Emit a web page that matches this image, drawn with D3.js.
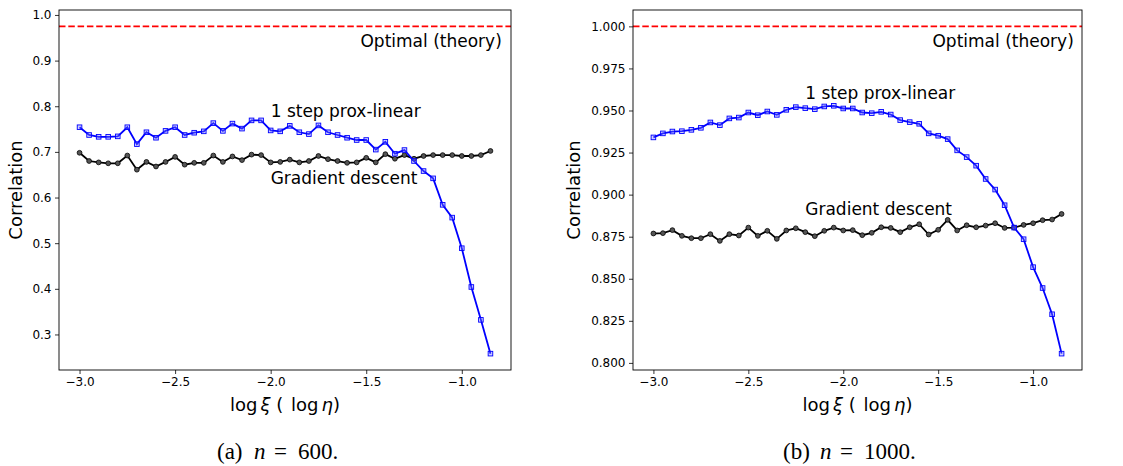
<!DOCTYPE html>
<html>
<head>
<meta charset="utf-8">
<script src="https://cdn.jsdelivr.net/npm/d3@7"></script>
<style>
  body { margin: 0; background: #fff; }
  svg { display: block; font-family: "DejaVu Sans", sans-serif; }
  .tick text { font-size: 12px; fill: #000; }
  .tick line { stroke: #000; stroke-width: 0.8; }
</style>
</head>
<body>
<div id="chart"></div>
<script>
// log step size grid shared by both panels
var xLog = [-3.00, -2.95, -2.90, -2.85, -2.80, -2.75, -2.70, -2.65, -2.60, -2.55,
            -2.50, -2.45, -2.40, -2.35, -2.30, -2.25, -2.20, -2.15, -2.10, -2.05,
            -2.00, -1.95, -1.90, -1.85, -1.80, -1.75, -1.70, -1.65, -1.60, -1.55,
            -1.50, -1.45, -1.40, -1.35, -1.30, -1.25, -1.20, -1.15, -1.10, -1.05,
            -1.00, -0.95, -0.90, -0.85];

// panel (a) n = 600
var proxA = [0.754, 0.737, 0.733, 0.733, 0.734, 0.754, 0.717, 0.743, 0.731, 0.746,
             0.754, 0.737, 0.742, 0.745, 0.763, 0.746, 0.762, 0.751, 0.769, 0.769,
             0.747, 0.745, 0.757, 0.743, 0.739, 0.758, 0.743, 0.737, 0.731, 0.726,
             0.726, 0.705, 0.722, 0.696, 0.704, 0.680, 0.658, 0.642, 0.584, 0.556,
             0.489, 0.404, 0.332, 0.258];
var gdA = [0.698, 0.680, 0.677, 0.675, 0.675, 0.692, 0.661, 0.678, 0.668, 0.678,
           0.689, 0.672, 0.676, 0.676, 0.692, 0.678, 0.690, 0.682, 0.694, 0.693,
           0.677, 0.678, 0.683, 0.677, 0.680, 0.691, 0.684, 0.680, 0.676, 0.677,
           0.687, 0.677, 0.695, 0.685, 0.693, 0.685, 0.691, 0.693, 0.693, 0.693,
           0.691, 0.691, 0.693, 0.702];
var optimalA = 0.975;

// panel (b) n = 1000
var proxB = [0.9340, 0.9364, 0.9375, 0.9377, 0.9385, 0.9397, 0.9429, 0.9413, 0.9453, 0.9458,
             0.9488, 0.9472, 0.9494, 0.9474, 0.9504, 0.9520, 0.9514, 0.9508, 0.9524, 0.9528,
             0.9512, 0.9512, 0.9488, 0.9484, 0.9492, 0.9476, 0.9443, 0.9431, 0.9421, 0.9364,
             0.9350, 0.9330, 0.9263, 0.9223, 0.9172, 0.9093, 0.9030, 0.8937, 0.8804, 0.8735,
             0.8569, 0.8445, 0.8289, 0.8055];
var gdB = [0.8769, 0.8771, 0.8789, 0.8755, 0.8741, 0.8741, 0.8765, 0.8725, 0.8765, 0.8757,
           0.8804, 0.8755, 0.8785, 0.8737, 0.8787, 0.8800, 0.8777, 0.8753, 0.8785, 0.8804,
           0.8787, 0.8789, 0.8759, 0.8773, 0.8806, 0.8802, 0.8777, 0.8806, 0.8824, 0.8763,
           0.8791, 0.8850, 0.8787, 0.8818, 0.8806, 0.8816, 0.8830, 0.8802, 0.8804, 0.8820,
           0.8830, 0.8848, 0.8852, 0.8885];
var optimalB = 1.0;

var xTicks = [-3.0, -2.5, -2.0, -1.5, -1.0];
var yTicksA = [0.3, 0.4, 0.5, 0.6, 0.7, 0.8, 0.9, 1.0];
var yTicksB = [0.800, 0.825, 0.850, 0.875, 0.900, 0.925, 0.950, 0.975, 1.000];

var svg = d3.select('#chart').append('svg')
    .attr('width', 1123)
    .attr('height', 466);

svg.append('rect').attr('width', 1123).attr('height', 466).attr('fill', '#fff');

function minusFmt(f) {
    return function (d) { return d3.format(f)(d).replace('-', '\u2212'); };
}

function drawPanel(opt) {
    var left = opt.left, right = opt.right, top = 10, bottom = 370;

    // matplotlib style autoscale with 5% margins
    var xExt = d3.extent(xLog);
    var xPad = (xExt[1] - xExt[0]) * 0.05;
    var allY = opt.prox.concat(opt.gd, [opt.optimal]);
    var yExt = d3.extent(allY);
    var yPad = (yExt[1] - yExt[0]) * 0.05;

    var x = d3.scaleLinear().domain([xExt[0] - xPad, xExt[1] + xPad]).range([left, right]);
    var y = d3.scaleLinear().domain([yExt[0] - yPad, yExt[1] + yPad]).range([bottom, top]);

    var g = svg.append('g');

    // clip region for the plot area
    var clipId = 'clip-' + opt.id;
    g.append('clipPath').attr('id', clipId)
        .append('rect')
        .attr('x', left).attr('y', top)
        .attr('width', right - left).attr('height', bottom - top);

    var plot = g.append('g').attr('clip-path', 'url(#' + clipId + ')');

    // optimal (theory) dashed line
    plot.append('line')
        .attr('x1', left).attr('x2', right)
        .attr('y1', y(opt.optimal)).attr('y2', y(opt.optimal))
        .attr('stroke', '#ff0000')
        .attr('stroke-width', 1.8)
        .attr('stroke-dasharray', '6.5,2.8');

    var line = d3.line()
        .x(function (d, i) { return x(xLog[i]); })
        .y(function (d) { return y(d); });

    // gradient descent (black, circles)
    plot.append('path')
        .datum(opt.gd)
        .attr('d', line)
        .attr('fill', 'none')
        .attr('stroke', '#000')
        .attr('stroke-width', 1.8);

    plot.selectAll('circle.gd')
        .data(opt.gd)
        .enter().append('circle')
        .attr('class', 'gd')
        .attr('cx', function (d, i) { return x(xLog[i]); })
        .attr('cy', function (d) { return y(d); })
        .attr('r', 2.4)
        .attr('fill', '#555')
        .attr('stroke', '#000')
        .attr('stroke-width', 0.8);

    // 1 step prox-linear (blue, squares)
    plot.append('path')
        .datum(opt.prox)
        .attr('d', line)
        .attr('fill', 'none')
        .attr('stroke', '#0000ff')
        .attr('stroke-width', 1.8);

    var s = 4.6;
    plot.selectAll('rect.px')
        .data(opt.prox)
        .enter().append('rect')
        .attr('class', 'px')
        .attr('x', function (d, i) { return x(xLog[i]) - s / 2; })
        .attr('y', function (d) { return y(d) - s / 2; })
        .attr('width', s).attr('height', s)
        .attr('fill', 'rgba(120,120,255,0.35)')
        .attr('stroke', '#0000ff')
        .attr('stroke-width', 0.9);

    // axes
    g.append('g')
        .attr('transform', 'translate(0,' + bottom + ')')
        .call(d3.axisBottom(x).tickValues(xTicks).tickFormat(minusFmt('.1f'))
            .tickSize(4).tickPadding(3.5))
        .call(function (a) { a.select('.domain').remove(); });

    g.append('g')
        .attr('transform', 'translate(' + left + ',0)')
        .call(d3.axisLeft(y).tickValues(opt.yTicks).tickFormat(d3.format(opt.yFmt))
            .tickSize(4).tickPadding(3.5))
        .call(function (a) { a.select('.domain').remove(); });

    g.selectAll('.tick text').attr('font-family', '"DejaVu Sans", sans-serif');

    // frame
    g.append('rect')
        .attr('x', left).attr('y', top)
        .attr('width', right - left).attr('height', bottom - top)
        .attr('fill', 'none')
        .attr('stroke', '#000')
        .attr('stroke-width', 0.9);

    // in-plot labels
    opt.labels.forEach(function (l) {
        g.append('text')
            .attr('x', x(l.x)).attr('y', y(l.y))
            .attr('font-size', '17px')
            .attr('fill', '#000')
            .text(l.text);
    });

    // y label
    g.append('text')
        .attr('transform', 'translate(' + opt.ylabX + ',' + ((top + bottom) / 2) + ') rotate(-90)')
        .attr('text-anchor', 'middle')
        .attr('font-size', '18px')
        .text('Correlation');

    // x label: log ξ ( log η)
    var xl = g.append('text')
        .attr('x', (left + right) / 2).attr('y', 411)
        .attr('text-anchor', 'middle')
        .attr('font-size', '18px')
        .attr('xml:space', 'preserve');
    xl.append('tspan').text('log');
    xl.append('tspan').attr('dx', 3).attr('font-style', 'italic').text('\u03be');
    xl.append('tspan').text(' ( ');
    xl.append('tspan').attr('dx', 2).text('log');
    xl.append('tspan').attr('dx', 3).attr('font-style', 'italic').text('\u03b7');
    xl.append('tspan').text(')');

    // caption
    var cx = opt.capX, cy = 459;
    var cap = g.append('g')
        .attr('font-family', '"Liberation Serif", "DejaVu Serif", serif')
        .attr('font-size', '23px')
        .attr('fill', '#000');
    cap.append('text').attr('x', cx).attr('y', cy).text(opt.capTag);
    cap.append('text').attr('x', cx + 37).attr('y', cy).attr('font-style', 'italic').text('n');
    cap.append('text').attr('x', cx + 57).attr('y', cy).text('=');
    cap.append('text').attr('x', cx + 81).attr('y', cy).text(opt.capN + '.');
}

drawPanel({
    id: 'a', left: 59, right: 511, ylabX: 22,
    prox: proxA, gd: gdA, optimal: optimalA,
    yTicks: yTicksA, yFmt: '.1f',
    labels: [
        { text: 'Optimal (theory)', x: -1.53, y: 0.930 },
        { text: '1 step prox-linear', x: -2.0, y: 0.776 },
        { text: 'Gradient descent', x: -2.0, y: 0.630 }
    ],
    capX: 217, capTag: '(a)', capN: '600'
});

drawPanel({
    id: 'b', left: 633, right: 1082, ylabX: 580,
    prox: proxB, gd: gdB, optimal: optimalB,
    yTicks: yTicksB, yFmt: '.3f',
    labels: [
        { text: 'Optimal (theory)', x: -1.53, y: 0.9877 },
        { text: '1 step prox-linear', x: -2.2, y: 0.957 },
        { text: 'Gradient descent', x: -2.2, y: 0.888 }
    ],
    capX: 783, capTag: '(b)', capN: '1000'
});
</script>
</body>
</html>
